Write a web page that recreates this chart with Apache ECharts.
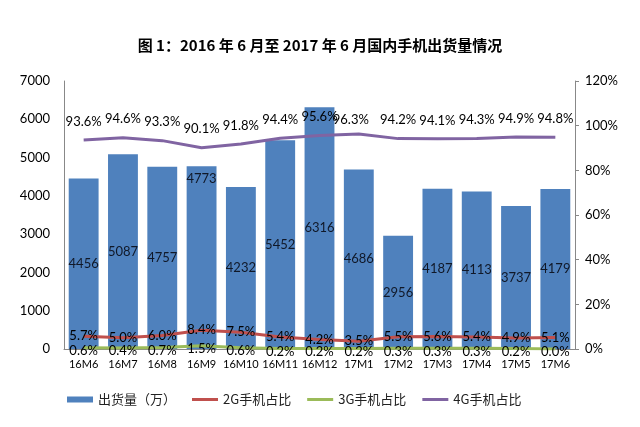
<!DOCTYPE html>
<html><head><meta charset="utf-8">
<script src="https://cdn.jsdelivr.net/npm/echarts@6/dist/echarts.min.js"></script>
<style>html,body{margin:0;padding:0;background:#fff}#c{width:640px;height:427px}</style>
</head><body><div id="c"></div>
<script>
const categories = ['16M6','16M7','16M8','16M9','16M10','16M11','16M12','17M1','17M2','17M3','17M4','17M5','17M6'];
const shipments = [4456,5087,4757,4773,4232,5452,6316,4686,2956,4187,4113,3737,4179];
const share2G = [5.7,5.0,6.0,8.4,7.5,5.4,4.2,3.5,5.5,5.6,5.4,4.9,5.1];
const share3G = [0.6,0.4,0.7,1.5,0.6,0.2,0.2,0.2,0.3,0.3,0.3,0.2,0.0];
const share4G = [93.6,94.6,93.3,90.1,91.8,94.4,95.6,96.3,94.2,94.1,94.3,94.9,94.8];
const leftTicks = [0,1000,2000,3000,4000,5000,6000,7000];
const rightTicks = [0,20,40,60,80,100,120];

const font = 'Lato, "Open Sans", sans-serif';
const barData = shipments.map((v,i)=> i===3 ? {value:v,label:{position:'insideTop',distance:6}} : v);
const data4G = share4G.map((v,i)=> i===7 ? {value:v,label:{offset:[-8,4]}} : v);
const pct = v => v.toFixed(1)+'%';
const lineIcon = 'path://M0,0H26V3H0Z';
const chart = echarts.init(document.getElementById('c'));
chart.setOption({
  animation:false,
  backgroundColor:'#fff',
  title:{text:'图 1：2016 年 6 月至 2017 年 6 月国内手机出货量情况',left:'center',top:33,
    textStyle:{fontFamily:'"Noto Sans CJK SC"',fontSize:15,fontWeight:'bold',color:'#000'}},
  grid:{left:64,right:65,top:81,bottom:78},
  legend:{left:62,top:388,itemGap:16,itemWidth:26,itemHeight:6,
    textStyle:{fontFamily:'"Noto Sans CJK SC"',fontSize:13,color:'#222'},
    data:[{name:'出货量（万）',icon:'rect'},{name:'2G手机占比',icon:lineIcon},{name:'3G手机占比',icon:lineIcon},{name:'4G手机占比',icon:lineIcon}]},
  xAxis:{type:'category',data:categories,
    axisLine:{lineStyle:{color:'#888'}},axisTick:{show:false},
    axisLabel:{interval:0,fontFamily:font,fontSize:11,color:'#000',margin:10}},
  yAxis:[
    {type:'value',min:leftTicks[0],max:leftTicks[leftTicks.length-1],interval:1000,
     axisLine:{show:true,lineStyle:{color:'#888'}},axisTick:{show:false},splitLine:{show:false},
     axisLabel:{fontFamily:font,fontSize:13,color:'#000',margin:14,formatter:v=>String(v)}},
    {type:'value',min:rightTicks[0],max:rightTicks[rightTicks.length-1],interval:20,
     axisLine:{show:true,lineStyle:{color:'#888'}},axisTick:{show:true,length:4,inside:false,lineStyle:{color:'#888'}},splitLine:{show:false},
     axisLabel:{fontFamily:font,fontSize:13,color:'#000',margin:10,formatter:'{value}%'}}
  ],
  series:[
    {name:'出货量（万）',type:'bar',data:barData,barCategoryGap:'24%',
     itemStyle:{color:'#4F81BD'},
     label:{show:true,position:'inside',fontFamily:font,fontSize:13,color:'#101828'}},
    {name:'2G手机占比',type:'line',yAxisIndex:1,data:share2G,symbol:'circle',symbolSize:0,showSymbol:true,
     lineStyle:{color:'#C0504D',width:3},itemStyle:{color:'#C0504D'},
     label:{show:true,position:'inside',fontFamily:font,fontSize:13,color:'#000',formatter:p=>pct(p.value)}},
    {name:'3G手机占比',type:'line',yAxisIndex:1,data:share3G,symbol:'circle',symbolSize:0,showSymbol:true,
     lineStyle:{color:'#9BBB59',width:3},itemStyle:{color:'#9BBB59'},
     label:{show:true,position:'inside',offset:[0,3],fontFamily:font,fontSize:13,color:'#000',formatter:p=>pct(p.value)}},
    {name:'4G手机占比',type:'line',yAxisIndex:1,data:data4G,symbol:'circle',symbolSize:0,showSymbol:true,
     lineStyle:{color:'#8064A2',width:3},itemStyle:{color:'#8064A2'},
     label:{show:true,position:'top',distance:12,fontFamily:font,fontSize:13,color:'#000',formatter:p=>pct(p.value)}}
  ]
});
</script></body></html>
